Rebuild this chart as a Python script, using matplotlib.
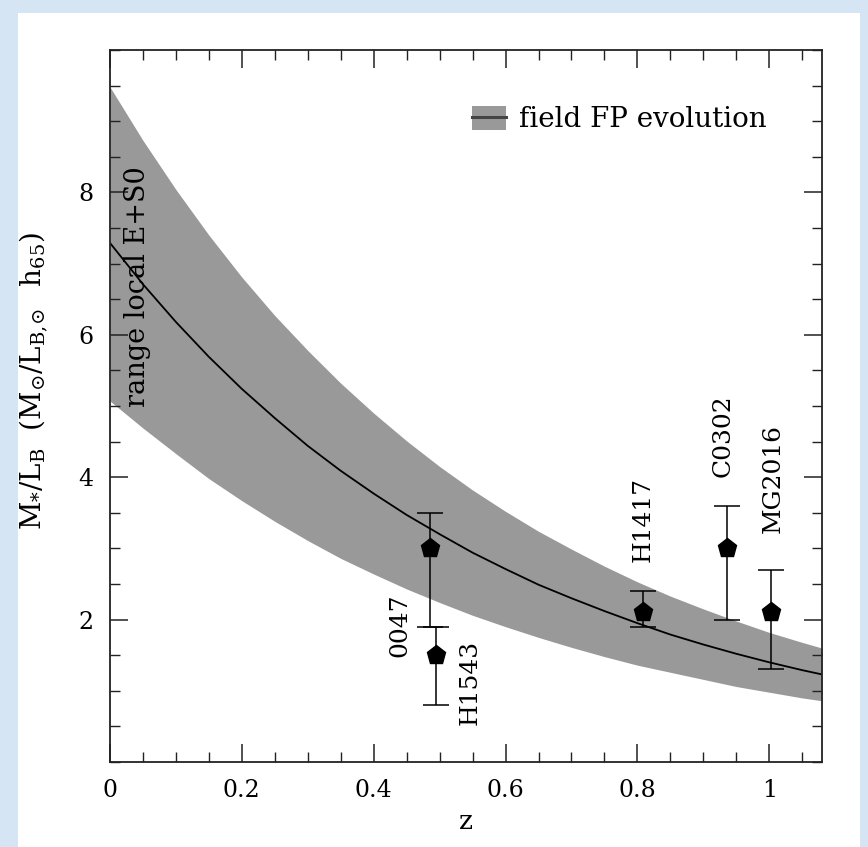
import matplotlib
matplotlib.use("Agg")
import matplotlib.pyplot as plt
from matplotlib.patches import Rectangle, Patch
from matplotlib.lines import Line2D
from matplotlib.ticker import MultipleLocator

plt.rcParams['font.family'] = ['DejaVu Serif']
plt.rcParams['mathtext.fontset'] = 'dejavuserif'

# ---- data ----
z_grid = [0.00, 0.05, 0.10, 0.15, 0.20, 0.25, 0.30, 0.35, 0.40, 0.45, 0.50, 0.55,
          0.60, 0.65, 0.70, 0.75, 0.80, 0.85, 0.90, 0.95, 1.00, 1.05, 1.08]
ml_curve = [7.29, 6.71, 6.18, 5.69, 5.24, 4.83, 4.44, 4.09, 3.77, 3.47, 3.20, 2.94,
            2.71, 2.49, 2.30, 2.12, 1.95, 1.79, 1.65, 1.52, 1.40, 1.29, 1.23]
ml_upper = [9.48, 8.73, 8.04, 7.40, 6.81, 6.27, 5.78, 5.32, 4.90, 4.51, 4.15, 3.82,
            3.52, 3.24, 2.99, 2.75, 2.53, 2.33, 2.15, 1.98, 1.82, 1.68, 1.60]
ml_lower = [5.07, 4.69, 4.33, 3.98, 3.67, 3.38, 3.11, 2.86, 2.64, 2.43, 2.24, 2.06,
            1.90, 1.75, 1.61, 1.48, 1.36, 1.26, 1.16, 1.06, 0.98, 0.90, 0.86]

cluster_names = ['0047', 'H1543', 'H1417', 'C0302', 'MG2016']
cluster_z = [0.485, 0.495, 0.808, 0.936, 1.003]
cluster_ml = [3.0, 1.5, 2.1, 3.0, 2.1]
err_low = [1.1, 0.7, 0.2, 1.0, 0.8]
err_high = [0.5, 0.4, 0.3, 0.6, 0.6]

x_ticks = [0, 0.2, 0.4, 0.6, 0.8, 1.0]
x_ticklabels = ['0', '0.2', '0.4', '0.6', '0.8', '1']
y_ticks = [2, 4, 6, 8]
y_ticklabels = ['2', '4', '6', '8']

W, H = 868, 847
fig = plt.figure(figsize=(W / 100, H / 100), dpi=100, facecolor='#d5e5f3')
fig.patches.append(Rectangle((18 / W, 0), (860 - 18) / W, 1 - 13 / H,
                             transform=fig.transFigure, facecolor='white',
                             edgecolor='none', zorder=-10))

ax = fig.add_axes([110 / W, 1 - 762 / H, 712 / W, 712 / H])
ax.set_zorder(5)
ax.patch.set_alpha(0)
ax.set_xlim(0, 1.08)
ax.set_ylim(0, 10)

ax.fill_between(z_grid, ml_lower, ml_upper, color='#999999', lw=0, zorder=1)
ax.plot(z_grid, ml_curve, color='black', lw=1.3, zorder=2)

ax.errorbar(cluster_z, cluster_ml, yerr=[err_low, err_high], fmt='p',
            color='black', ms=14, elinewidth=1.1, capsize=9.5, capthick=1.1,
            zorder=3)

# labels of clusters (rotated)
lab_pos = [(0.440, 1.48, 'bottom'),
           (0.546, 1.71, 'top'),
           (0.809, 2.81, 'bottom'),
           (0.930, 4.00, 'bottom'),
           (1.006, 3.22, 'bottom')]
for name, (lx, ly, va) in zip(cluster_names, lab_pos):
    ax.text(lx, ly, name, rotation=90, ha='center', va=va, fontsize=18)

ax.text(0.041, 6.68, 'range local E+S0', rotation=90, ha='center',
        va='center', fontsize=19.5)

ax.set_xticks(x_ticks)
ax.set_xticklabels(x_ticklabels)
ax.set_yticks(y_ticks)
ax.set_yticklabels(y_ticklabels)
ax.xaxis.set_minor_locator(MultipleLocator(0.05))
ax.yaxis.set_minor_locator(MultipleLocator(0.5))
ax.tick_params(which='both', direction='in', top=True, right=True,
               labelsize=17, color='#222222')
ax.tick_params(axis='x', which='major', length=13, width=1.1, pad=12)
ax.tick_params(axis='y', which='major', length=13, width=1.1, pad=12)
ax.tick_params(which='minor', length=7, width=1.0)
for s in ax.spines.values():
    s.set_linewidth(1.3)
    s.set_color('#222222')

ax.set_xlabel('z', fontsize=19)
ax.xaxis.label.set_va('center')
ax.xaxis.set_label_coords(0.5, -0.083)
ax.set_ylabel(r'M$_{*}$/L$_{\rm B}$  (M$_{\odot}$/L$_{{\rm B}{,}\!\odot}$  h$_{65}$)',
              fontsize=20, va='center')
ax.yaxis.set_label_coords(-0.108, 0.535)

handle = (Patch(facecolor='#999999', edgecolor='none'),
          Line2D([], [], color='#444444', lw=2.2))
ax.legend([handle], ['field FP evolution'], loc='upper left',
          bbox_to_anchor=(0.508, 0.922), frameon=False, fontsize=20,
          borderpad=0, borderaxespad=0, handlelength=1.25, handleheight=1.0,
          handletextpad=0.45)

fig.savefig('out.png', dpi=100, facecolor=fig.get_facecolor())
